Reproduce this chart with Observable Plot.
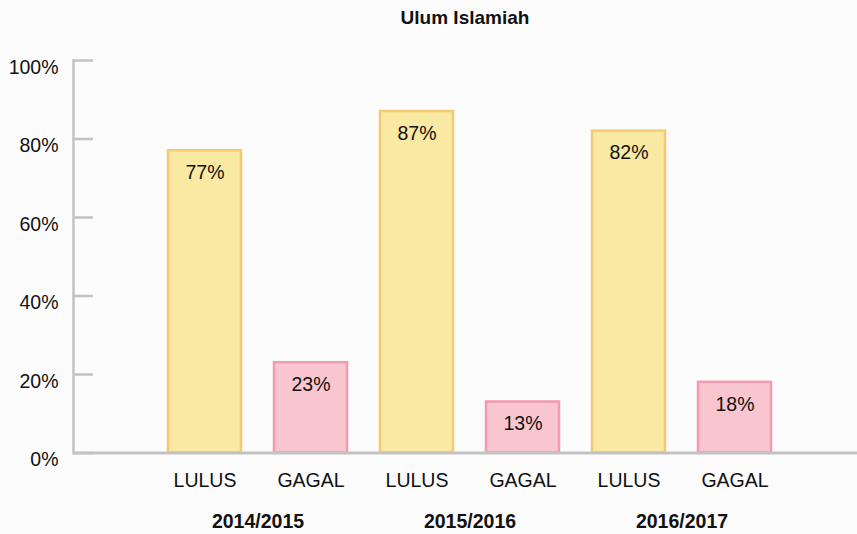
<!DOCTYPE html>
<html>
<head>
<meta charset="utf-8">
<script src="https://cdn.jsdelivr.net/npm/d3@7"></script>
<script src="https://cdn.jsdelivr.net/npm/@observablehq/plot@0.6"></script>
<style>
  html, body { margin: 0; padding: 0; background: #fcfcfc; }
  #wrap { width: 857px; height: 534px; position: relative; font-family: "Liberation Sans", Arial, Helvetica, sans-serif; }
  #title { height: 36px; line-height: 36px; padding-left: 73px; text-align: center; font-weight: bold; font-size: 19px; color: #111; box-sizing: border-box; }
</style>
</head>
<body>
<div id="wrap">
  <div id="title">Ulum Islamiah</div>
  <div id="chart"></div>
</div>
<script>
const title = "Ulum Islamiah";
const years = ["2014/2015", "2015/2016", "2016/2017"];
const categories = ["LULUS", "GAGAL"];
const lulus = [77, 87, 82];
const gagal = [23, 13, 18];
const yTicks = [0, 20, 40, 60, 80, 100];

const seriesValues = {LULUS: lulus, GAGAL: gagal};
const rows = [];
years.forEach((yr, i) => {
  categories.forEach(c => {
    rows.push({year: yr, cat: c, key: yr + "|" + c, value: seriesValues[c][i]});
  });
});
const keys = rows.map(d => d.key);

const fills = {LULUS: "#f9e9a2", GAGAL: "#f9c6d0"};
const strokes = {LULUS: "#f4cb70", GAGAL: "#f29ab0"};
const axisColor = "#c3c3c3";
const font = "Liberation Sans, Arial, Helvetica, sans-serif";

const chart = Plot.plot({
  width: 857,
  height: 498,
  marginLeft: 73,
  marginRight: 0,
  marginTop: 24,
  marginBottom: 81.5,
  style: {fontFamily: font, fontSize: "19.5px", color: "#111", background: "transparent", overflow: "visible"},
  x: {domain: keys, range: [151, 787], paddingInner: 0.316, paddingOuter: 0.158, axis: null},
  y: {domain: [0, 100], axis: null},
  marks: [
    Plot.barY(rows, {
      x: "key", y: "value",
      fill: d => fills[d.cat], stroke: d => strokes[d.cat], strokeWidth: 2.5
    }),
    Plot.text(rows, {
      x: "key", y: "value", text: d => d.value + "%",
      dy: 22, lineAnchor: "middle", fill: "#111", fontSize: 19.5
    }),
    Plot.axisX({
      domain: keys, tickSize: 0, tickPadding: 20, tickFormat: d => d.split("|")[1],
      fontSize: 19.5, fill: "#111", label: null
    }),
    Plot.text(years, {
      x: d => d + "|LULUS", frameAnchor: "bottom", dx: 53, dy: 69,
      lineAnchor: "middle", text: d => d, fontWeight: "bold", fontSize: 19.5, fill: "#111"
    }),
    Plot.axisY({
      ticks: yTicks, tickSize: -20, text: null,
      stroke: axisColor, strokeWidth: 2.5, label: null
    }),
    Plot.axisY({
      ticks: yTicks, tickSize: 0, tickPadding: 15, dy: 7, tickFormat: d => d + "%",
      fontSize: 19.5, fill: "#111", label: null
    }),
    Plot.frame({anchor: "left", stroke: axisColor, strokeWidth: 2.5}),
    Plot.ruleY([0], {stroke: axisColor, strokeWidth: 3})
  ]
});
document.getElementById("chart").appendChild(chart);
</script>
</body>
</html>
